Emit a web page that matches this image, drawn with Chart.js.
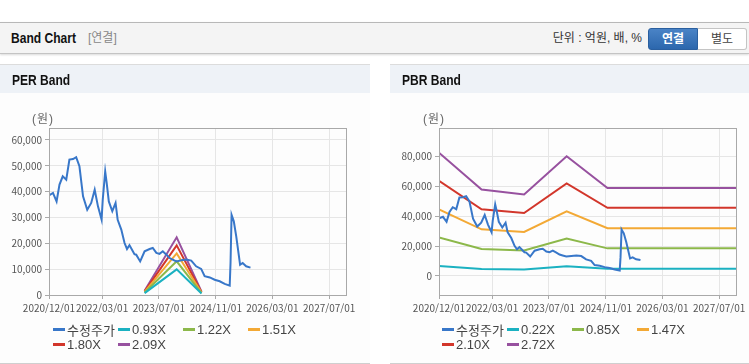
<!DOCTYPE html>
<html lang="ko">
<head>
<meta charset="UTF-8">
<title>Band Chart</title>
<script src="https://cdn.jsdelivr.net/npm/chart.js"></script>
<style>
  body { margin: 0; width: 749px; height: 364px; overflow: hidden; background: #fff; position: relative;
         font-family: "Liberation Sans", "Noto Sans CJK KR", sans-serif; }
  .top { position: absolute; left: 0; top: 22px; width: 749px; height: 30px; background: #f4f4f4;
         border-top: 1px solid #b8b8b8; border-bottom: 1px solid #c4c4c4; box-shadow: 0 1px 2px rgba(0,0,0,.15); }
  .cond { display: inline-block; font-weight: bold; font-size: 14px; color: #111;
          transform: scaleX(0.86); transform-origin: left center; }
  .top .ttl { position: absolute; left: 11px; top: 0; line-height: 31px; }
  .top .sub { position: absolute; left: 88px; top: 0; line-height: 31px; font-size: 12px; color: #888; }
  .top .unit { position: absolute; right: 107px; top: 0; line-height: 30px; font-size: 12px; color: #333; }
  .btn { position: absolute; top: 5px; height: 20px; line-height: 20px; font-size: 12px; text-align: center; }
  .b1 { left: 648px; width: 50px; background: linear-gradient(#4a83c6, #2c67ad); color: #fff; font-weight: bold;
        border: 1px solid #2a5f9f; border-radius: 3px 0 0 3px; box-sizing: border-box; height: 22px; }
  .b2 { left: 698px; width: 49px; background: #fff; color: #444; border: 1px solid #c4c4c4; border-left: none;
        border-radius: 0 3px 3px 0; box-sizing: border-box; height: 22px; }
  .panel { position: absolute; top: 64px; height: 298px; background: #fdfdfd;
           border-top: 1px solid #dcdcdc; border-bottom: 1px solid #cfcfcf; }
  .ptitle { height: 28px; background: #eef2f7; padding-left: 12px; }
  .ptitle .cond { line-height: 31px; }
  .unitlbl { position: absolute; top: 44px; font-size: 12px; color: #666; letter-spacing: 1px; }
  .legend { position: absolute; top: 257px; display: grid; grid-template-columns: 65px 65px 65px 65px;
            row-gap: 0; font-size: 13px; color: #444; }
  .legend span { display: flex; align-items: center; height: 15px; white-space: nowrap; }
  .legend i { display: inline-block; width: 12px; height: 3px; margin-right: 2px; }
</style>
</head>
<body>
<div class="top">
  <span class="ttl cond">Band Chart</span><span class="sub">[연결]</span>
  <span class="unit">단위 : 억원, 배, %</span>
  <div class="btn b1">연결</div><div class="btn b2">별도</div>
</div>

<div class="panel" style="left:0;width:370px">
  <div class="ptitle"><span class="cond">PER Band</span></div>
  <canvas id="perChart" width="370" height="270"></canvas>
  <div class="unitlbl" style="left:32px">(원)</div>
  <div class="legend" id="perLegend" style="left:53px"></div>
</div>

<div class="panel" style="left:390px;width:359px">
  <div class="ptitle"><span class="cond">PBR Band</span></div>
  <canvas id="pbrChart" width="359" height="270"></canvas>
  <div class="unitlbl" style="left:33px">(원)</div>
  <div class="legend" id="pbrLegend" style="left:52px"></div>
</div>

<script>
// x axis
const xStart = '2020/12/01';
const xEnd = '2027/12/01';
const xTickLabels = ['2020/12/01', '2022/03/01', '2023/07/01', '2024/11/01', '2026/03/01', '2027/07/01'];

// 수정주가
const priceDates = [
  '2020/12/01', '2021/01/04', '2021/02/04', '2021/03/01', '2021/03/29', '2021/04/28', '2021/05/25',
  '2021/06/25', '2021/07/22', '2021/08/19', '2021/09/19', '2021/10/25', '2021/11/28', '2021/12/28',
  '2022/01/25', '2022/02/25', '2022/03/07', '2022/03/28', '2022/04/10', '2022/04/28', '2022/05/28',
  '2022/06/25', '2022/07/13', '2022/08/13', '2022/09/10', '2022/10/01', '2022/10/22', '2022/11/13',
  '2022/12/04', '2022/12/19', '2023/01/22', '2023/03/01', '2023/04/13', '2023/05/10', '2023/06/10',
  '2023/07/07', '2023/08/04', '2023/09/04', '2023/10/01', '2023/10/28', '2023/11/28', '2024/01/10',
  '2024/02/22', '2024/04/04', '2024/05/16', '2024/06/28', '2024/07/28', '2024/09/10', '2024/10/22',
  '2024/12/04', '2025/01/16', '2025/02/28', '2025/03/07', '2025/03/16', '2025/04/04', '2025/04/25',
  '2025/05/28', '2025/06/19', '2025/07/19', '2025/08/25'
];
const priceValues = [
  38500, 39500, 36200, 42700, 45900, 44600, 52400,
  52600, 53300, 49800, 38200, 33000, 35600, 40700,
  34300, 29200, 36900, 47800, 43300, 36200, 32400,
  35600, 29100, 25300, 20100, 17800, 19300, 17500,
  15800, 15600, 13000, 16900, 17800, 18200, 16300,
  15900, 16900, 15600, 14300, 13700, 13000, 13400,
  13700, 13300, 11100, 10100, 7300, 6800, 5900,
  5300, 4300, 3600, 12400, 31000, 28500, 22700,
  11700, 12400, 11100, 10600
];

// PER band
const perDates = ['2023/03/01', '2023/12/01', '2024/07/01'];
const perLabels = ['0.93X', '1.22X', '1.51X', '1.80X', '2.09X'];
const per093 = [740, 9920, 580];
const per122 = [970, 13020, 760];
const per151 = [1200, 16110, 940];
const per180 = [1430, 19210, 1120];
const per209 = [1660, 22300, 1300];
const perTicks = [0, 10000, 20000, 30000, 40000, 50000, 60000];

// PBR band
const pbrDates = ['2020/12/01', '2021/12/01', '2022/12/01', '2023/12/01', '2024/11/15', '2027/12/01'];
const pbrLabels = ['0.22X', '0.85X', '1.47X', '2.10X', '2.72X'];
const pbr022 = [6660, 4660, 4400, 6470, 4770, 4770];
const pbr085 = [25730, 18020, 17020, 24990, 18430, 18430];
const pbr147 = [44500, 31160, 29430, 43220, 31870, 31870];
const pbr210 = [63570, 44520, 42040, 61740, 45530, 45530];
const pbr272 = [82330, 57660, 54450, 79970, 58670, 58670];
const pbrTicks = [0, 20000, 40000, 60000, 80000];

const priceColor = '#3877c9';
const bandColors = ['#1bb1c1', '#8cb84a', '#f3a935', '#d2362b', '#97519f'];

function toDay(s) {
  const p = s.split('/').map(Number);
  return (Date.UTC(p[0], p[1] - 1, p[2]) - Date.UTC(2020, 11, 1)) / 86400000;
}
function fromDay(v) {
  const d = new Date(Date.UTC(2020, 11, 1) + v * 86400000);
  const pad = n => String(n).padStart(2, '0');
  return d.getUTCFullYear() + '/' + pad(d.getUTCMonth() + 1) + '/' + pad(d.getUTCDate());
}
function pts(dates, values) {
  return dates.map((d, i) => ({ x: toDay(d), y: values[i] }));
}

const boxPlugin = {
  id: 'box',
  afterDatasetsDraw(chart) {
    const a = chart.chartArea, ctx = chart.ctx;
    ctx.save();
    ctx.strokeStyle = '#a9a9a9';
    ctx.lineWidth = 1;
    ctx.strokeRect(Math.round(a.left) + 0.5, Math.round(a.top) + 0.5,
                   Math.round(a.right - a.left) - 1, Math.round(a.bottom - a.top));
    ctx.restore();
  }
};

function makeChart(id, legendId, bandDates, bands, labels, yMin, yMax, yTicks, padRight) {
  const datasets = [{ label: '수정주가', data: pts(priceDates, priceValues), borderColor: priceColor }];
  bands.forEach((b, i) => datasets.push({ label: labels[i], data: pts(bandDates, b), borderColor: bandColors[i] }));
  datasets.forEach(d => { d.borderWidth = 2; d.pointRadius = 0; d.fill = false; d.tension = 0; });

  new Chart(document.getElementById(id), {
    type: 'line',
    data: { datasets },
    plugins: [boxPlugin],
    options: {
      responsive: false,
      animation: false,
      layout: { padding: { top: 35, right: padRight, bottom: 47, left: 0 } },
      plugins: { legend: { display: false }, tooltip: { enabled: false } },
      scales: {
        x: {
          type: 'linear', min: toDay(xStart), max: toDay(xEnd),
          afterBuildTicks: s => { s.ticks = xTickLabels.map(t => ({ value: toDay(t) })); },
          afterFit: s => { s.height = 21; },
          ticks: { autoSkip: false, maxRotation: 0, color: '#555', padding: 3,
                   font: { family: 'Noto Sans CJK KR', size: 10 }, callback: v => fromDay(v) },
          grid: { color: '#e6e6e6', tickColor: '#a9a9a9', tickLength: 4 },
          border: { display: false }
        },
        y: {
          min: yMin, max: yMax,
          afterBuildTicks: s => { s.ticks = yTicks.map(v => ({ value: v })); },
          afterFit: s => { s.width = 49; },
          ticks: { color: '#555', padding: 3, font: { family: 'Noto Sans CJK KR', size: 10 },
                   callback: v => v.toLocaleString('en-US') },
          grid: { color: '#e6e6e6', tickColor: '#a9a9a9', tickLength: 4 },
          border: { display: false }
        }
      }
    }
  });

  const lg = document.getElementById(legendId);
  datasets.forEach(d => {
    const s = document.createElement('span');
    s.innerHTML = '<i style="background:' + d.borderColor + '"></i>' + d.label;
    lg.appendChild(s);
  });
}

makeChart('perChart', 'perLegend', perDates, [per093, per122, per151, per180, per209], perLabels,
          0, 64600, perTicks, 23);
makeChart('pbrChart', 'pbrLegend', pbrDates, [pbr022, pbr085, pbr147, pbr210, pbr272], pbrLabels,
          -12700, 98800, pbrTicks, 12);
</script>
</body>
</html>
